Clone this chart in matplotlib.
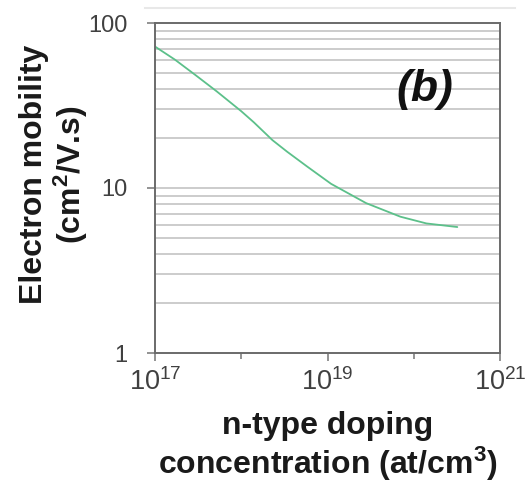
import matplotlib
matplotlib.use('Agg')
import matplotlib.pyplot as plt
from matplotlib.lines import Line2D
from matplotlib.ticker import FixedLocator, NullFormatter

plt.rcParams['font.family'] = ['Liberation Sans', 'DejaVu Sans']
plt.rcParams['mathtext.fontset'] = 'custom'
plt.rcParams['mathtext.rm'] = 'Liberation Sans'
plt.rcParams['mathtext.bf'] = 'Liberation Sans:bold'

# doping concentration (at/cm3) and electron mobility (cm2/V.s)
doping = [1e17, 1.7e17, 3e17, 5.2e17, 1e18, 1.4e18, 2.3e18, 3.4e18, 5.8e18,
          1.1e19, 2.8e19, 7e19, 1.4e20, 3.2e20]
mobility = [72, 60, 48, 38.5, 29.2, 25, 19.5, 16.6, 13.5, 10.6, 8.1, 6.7, 6.1, 5.8]

x_ticks = [1e17, 1e19, 1e21]
x_labels = [r'$\mathregular{10^{17}}$', r'$\mathregular{10^{19}}$', r'$\mathregular{10^{21}}$']
y_ticks = [1, 10, 100]
y_labels = ['1', '10', '100']

fig = plt.figure(figsize=(5.25, 4.82), dpi=100)
ax = fig.add_axes([155/525, 1-353/482, 345/525, 330/482])

ax.plot(doping, mobility, color='#5cc08a', lw=1.3, solid_capstyle='round')
ax.set_xscale('log')
ax.set_yscale('log')
ax.set_xlim(1e17, 1e21)
ax.set_ylim(1, 100)

# horizontal gridlines at every value 1..100
grid_vals = [m * d for d in (1, 10) for m in range(2, 10)] + [10]
for g in grid_vals:
    ax.axhline(g, color='#c4c4c4', lw=1.2, zorder=0)

ax.set_xticks(x_ticks)
ax.set_xticklabels(x_labels)
ax.xaxis.set_minor_locator(FixedLocator([1e18, 1e20]))
ax.xaxis.set_minor_formatter(NullFormatter())
ax.set_yticks(y_ticks)
ax.set_yticklabels(y_labels)
ax.yaxis.set_minor_locator(FixedLocator([]))

ax.tick_params(axis='both', which='major', length=6, width=1.2, color='#808080',
               labelcolor='#404040', direction='out')
ax.tick_params(axis='x', which='minor', length=4, width=1.2, color='#808080', direction='out')
ax.tick_params(axis='y', pad=14, labelsize=17)
ax.tick_params(axis='x', pad=5, labelsize=19.5)

for s in ax.spines.values():
    s.set_color('#6a6a6a')
    s.set_linewidth(1.4)

ax.set_xlabel('n-type doping\nconcentration (at/cm$\\mathbf{^3}$)', fontsize=23, fontweight='bold',
              color='#1a1a1a', linespacing=1.1, labelpad=11)
ax.set_ylabel('Electron mobility\n(cm$\\mathbf{^2}$/V.s)', fontsize=23, fontweight='bold',
              color='#1a1a1a', linespacing=1.1)
# label sits a bit above the axes centre in the original
ax.yaxis.set_label_coords(-0.188, 0.54)

ax.text(0.783, 0.797, '(b)', transform=ax.transAxes, fontsize=32, fontweight='bold',
        fontstyle='italic', ha='center', va='center', color='#111111')

# faint line above the chart
fig.add_artist(Line2D([145/525, 515/525], [1-8/482, 1-8/482], color='#e8e8e8', lw=1.5))

fig.savefig('out.png', dpi=100)
